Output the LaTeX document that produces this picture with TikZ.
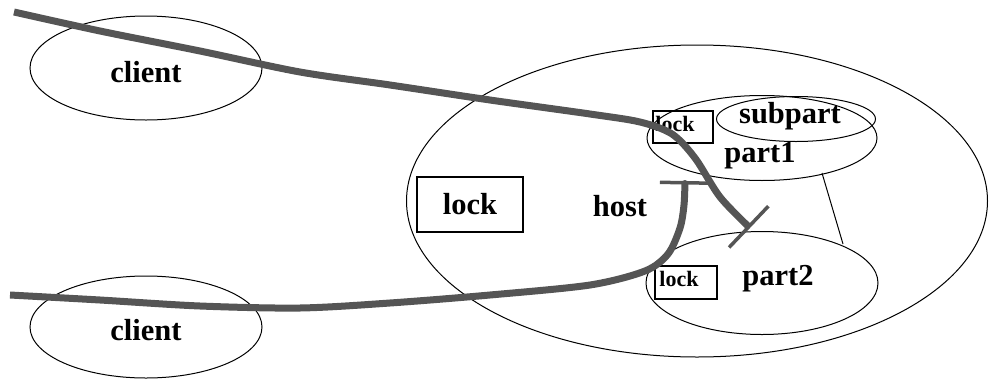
\documentclass[tikz,border=0pt]{standalone}
\usepackage{fontspec}
\setmainfont{Liberation Serif}
\usetikzlibrary{shapes.geometric,arrows.meta}
\definecolor{pathgray}{RGB}{85,85,85}
\tikzset{
  oval/.style={draw=black,line width=1pt,ellipse,inner sep=0pt},
  lbl/.style={font=\bfseries\fontsize{30.5}{31}\selectfont,inner sep=0pt},
  smalllbl/.style={font=\bfseries\fontsize{22}{23}\selectfont,inner sep=0pt},
  lockbox/.style={draw=black,line width=1.1pt,rectangle,inner sep=0pt},
  gpath/.style={draw=pathgray,line width=7pt,line join=round},
}
\begin{document}
\begin{tikzpicture}[x=1pt,y=-1pt]
\useasboundingbox (0,0) rectangle (989,381);
% ellipses
\node[oval,minimum width=232pt,minimum height=104pt] (client1) at (146,68) {};
\node[oval,minimum width=232pt,minimum height=102pt] (client2) at (146,327) {};
\node[oval,minimum width=581pt,minimum height=312pt] (host) at (697,201) {};
\node[oval,minimum width=230pt,minimum height=85pt] (part1) at (762,138) {};
\node[oval,minimum width=159pt,minimum height=45pt] (subpart) at (796,119) {};
\node[oval,minimum width=232pt,minimum height=103pt] (part2) at (762,283) {};
% lock boxes
\node[lockbox,minimum width=106pt,minimum height=55pt] (lockhost) at (470,204.5) {};
\node[lockbox,minimum width=60pt,minimum height=32pt] (lockp1) at (683,127) {};
\node[lockbox,minimum width=62pt,minimum height=33pt] (lockp2) at (686,282.5) {};
% connection between part1 and part2
\coordinate (c1) at (822,173);
\coordinate (c2) at (843,244);
\draw[line width=1pt] (c1) -- (c2);
% labels
\node[lbl] (tclient1) at (146,72) {client};
\node[lbl] (tclient2) at (146,330) {client};
\node[lbl] (thost) at (620,206) {host};
\node[lbl] (tlockhost) at (470,204) {lock};
\node[lbl] (tsubpart) at (790,116) {subpart};
\node[lbl] (tpart1) at (760,156) {part1};
\node[lbl] (tpart2) at (778,279) {part2};
\node[smalllbl] (tlockp1) at (675,124) {lock};
\node[smalllbl] (tlockp2) at (679,279) {lock};
% thick gray paths
\draw[gpath,-{Bar[width=57pt,line width=3.5pt]}] plot[smooth,tension=0.5] coordinates
  {(14,12) (100,31) (200,51) (300,72) (390,85) (490,100) (590,114) (640,122) (672,134) (695,158) (720,197) (750,228)};
\draw[gpath,-{Bar[width=50pt,line width=3.5pt]}] plot[smooth,tension=0.5] coordinates
  {(10,295) (100,300) (200,306) (300,308) (390,303) (490,295) (590,285) (645,271) (668,254) (680,228) (684,205) (685,181)};
\end{tikzpicture}
\end{document}
